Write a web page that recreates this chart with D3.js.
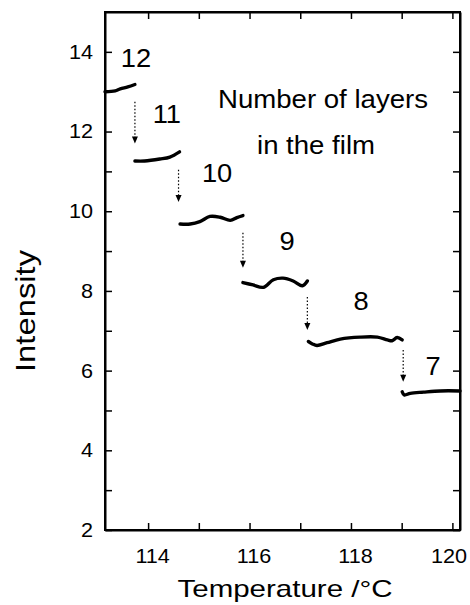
<!DOCTYPE html>
<html>
<head>
<meta charset="utf-8">
<script src="https://cdn.jsdelivr.net/npm/d3@7"></script>
<style>
  body { margin: 0; background: #fff; }
  svg text { font-family: Arial, "Liberation Sans", Helvetica, sans-serif; fill: #000; }
</style>
</head>
<body>
<div id="chart"></div>
<script>
// step curves: one segment per number of layers [temperature, intensity]
const seg12 = [[113.15, 13.0], [113.35, 13.02], [113.45, 13.07], [113.6, 13.12], [113.74, 13.18]];
const seg11 = [[113.74, 11.26], [113.93, 11.26], [114.23, 11.31], [114.43, 11.36], [114.62, 11.49]];
const seg10 = [[114.63, 9.68], [114.83, 9.68], [115.02, 9.74], [115.22, 9.87], [115.42, 9.85], [115.62, 9.77], [115.75, 9.84], [115.87, 9.89]];
const seg9 = [[115.87, 8.21], [116.07, 8.15], [116.27, 8.09], [116.47, 8.28], [116.66, 8.32], [116.86, 8.25], [117.04, 8.13], [117.14, 8.25]];
const seg8 = [[117.16, 6.73], [117.24, 6.67], [117.33, 6.63], [117.53, 6.70], [117.79, 6.79], [118.18, 6.84], [118.52, 6.84], [118.72, 6.77], [118.81, 6.75], [118.91, 6.83], [119.01, 6.77]];
const seg7 = [[119.01, 5.47], [119.05, 5.39], [119.17, 5.43], [119.43, 5.46], [119.76, 5.49], [120.15, 5.49]];
const segments = [seg12, seg11, seg10, seg9, seg8, seg7];

// dotted arrows between layers: [temperature, from intensity, to intensity]
const arrows = [[113.74, 12.75, 11.7], [114.6, 11.04, 10.23], [115.87, 9.46, 8.58], [117.14, 7.85, 7.02], [119.03, 6.52, 5.72]];

// layer labels: [text, temperature, intensity]
const layerLabels = [["12", 113.76, 13.62], ["11", 114.37, 12.21], ["10", 115.36, 10.73], ["9", 116.74, 9.03], ["8", 118.20, 7.52], ["7", 119.62, 5.89]];

const xTicks = [114, 115, 116, 117, 118, 119, 120];
const yTicks = [2, 3, 4, 5, 6, 7, 8, 9, 10, 11, 12, 13, 14];

const W = 470, H = 605;
const margin = {top: 12, right: 10, bottom: 75, left: 105};
const width = W - margin.left - margin.right;
const height = H - margin.top - margin.bottom;

const svg = d3.select("#chart").append("svg")
    .attr("width", W).attr("height", H);
const g = svg.append("g")
    .attr("transform", "translate(" + margin.left + "," + margin.top + ")");

const x = d3.scaleLinear().domain([113.15, 120.15]).range([0, width]);
const y = d3.scaleLinear().domain([2, 15]).range([height, 0]);

// widen text a bit, the original lettering is broad
function stretch(sel, f) {
    sel.each(function () {
        const len = this.getComputedTextLength();
        if (len > 0) d3.select(this).attr("textLength", len * f).attr("lengthAdjust", "spacingAndGlyphs");
    });
}

const evenLabel = d => (d % 2 === 0 ? d : "");

// axes, ticks pointing inwards
const xAxis = g.append("g").attr("transform", "translate(0," + height + ")")
    .call(d3.axisBottom(x).tickValues(xTicks).tickSizeInner(-7).tickSizeOuter(0).tickPadding(19).tickFormat(evenLabel));
g.append("g")
    .call(d3.axisTop(x).tickValues(xTicks).tickSizeInner(-7).tickSizeOuter(0).tickFormat(""));
g.append("g")
    .call(d3.axisLeft(y).tickValues(yTicks).tickSizeInner(-7).tickSizeOuter(0).tickPadding(12).tickFormat(evenLabel));
g.append("g").attr("transform", "translate(" + width + ",0)")
    .call(d3.axisRight(y).tickValues(yTicks).tickSizeInner(-7).tickSizeOuter(0).tickFormat(""));

g.selectAll(".domain").attr("stroke", "#000").attr("stroke-width", 2);
g.selectAll(".tick line").attr("stroke", "#000").attr("stroke-width", 1.5);
g.selectAll(".tick text").style("font-size", "20px").attr("fill", "#000");
xAxis.selectAll(".tick text").attr("dx", d => (d === 120 ? -4 : 4));
stretch(g.selectAll(".tick text"), 1.08);

// frame
g.append("rect").attr("width", width).attr("height", height)
    .attr("fill", "none").attr("stroke", "#000").attr("stroke-width", 2);

// data
const line = d3.line().x(d => x(d[0])).y(d => y(d[1])).curve(d3.curveCatmullRom);
g.selectAll(".seg").data(segments).enter().append("path")
    .attr("class", "seg")
    .attr("d", line)
    .attr("fill", "none").attr("stroke", "#000").attr("stroke-width", 3.4)
    .attr("stroke-linecap", "round");

// arrows
g.selectAll(".arrow").data(arrows).enter().append("line")
    .attr("class", "arrow")
    .attr("x1", d => x(d[0])).attr("x2", d => x(d[0]))
    .attr("y1", d => y(d[1])).attr("y2", d => y(d[2]) - 6)
    .attr("stroke", "#000").attr("stroke-width", 1.2)
    .attr("stroke-dasharray", "1.5,2");
g.selectAll(".head").data(arrows).enter().append("path")
    .attr("class", "head")
    .attr("d", d => "M" + (x(d[0]) - 3) + "," + (y(d[2]) - 7) + " L" + (x(d[0]) + 3) + "," + (y(d[2]) - 7) + " L" + x(d[0]) + "," + y(d[2]) + " Z")
    .attr("fill", "#000");

// layer numbers
const lab = g.selectAll(".layer").data(layerLabels).enter().append("text")
    .attr("class", "layer")
    .attr("x", d => x(d[1])).attr("y", d => y(d[2]))
    .attr("text-anchor", "middle")
    .style("font-size", "26px")
    .text(d => d[0]);
stretch(lab, 1.05);

// annotation
g.append("text").attr("x", 218).attr("y", 96)
    .attr("text-anchor", "middle").style("font-size", "25px")
    .attr("textLength", 210).attr("lengthAdjust", "spacingAndGlyphs")
    .text("Number of layers");
g.append("text").attr("x", 211).attr("y", 142)
    .attr("text-anchor", "middle").style("font-size", "25px")
    .attr("textLength", 118).attr("lengthAdjust", "spacingAndGlyphs")
    .text("in the film");

// axis titles
svg.append("text")
    .attr("transform", "translate(35," + 311 + ") rotate(-90)")
    .attr("text-anchor", "middle")
    .style("font-size", "28px")
    .attr("textLength", 122).attr("lengthAdjust", "spacingAndGlyphs")
    .text("Intensity");
svg.append("text")
    .attr("x", 285).attr("y", 597)
    .attr("text-anchor", "middle")
    .style("font-size", "24px")
    .attr("textLength", 215).attr("lengthAdjust", "spacingAndGlyphs")
    .text("Temperature /°C");
</script>
</body>
</html>
